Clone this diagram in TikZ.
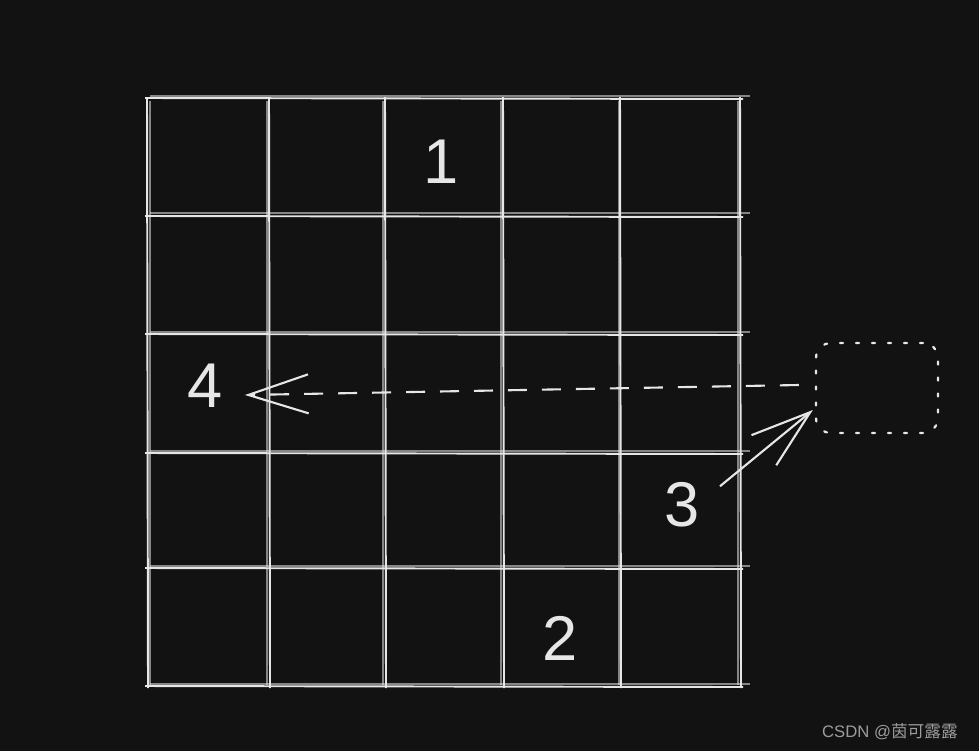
\documentclass[tikz,border=0pt]{standalone}
\usepackage{fontspec}
\setmainfont{Liberation Sans}
\newfontfamily\cjk{Noto Sans CJK SC}
\usetikzlibrary{positioning,arrows.meta,calc}
\definecolor{board}{HTML}{121212}
\definecolor{chalk}{HTML}{E6E6E6}
\definecolor{stampgray}{HTML}{9C9C9C}
\tikzset{
	gridline/.style={chalk, line width=1.1pt},
	gridfaint/.style={chalk, line width=0.7pt, opacity=0.55},
	digit/.style={text=chalk, inner sep=0pt, font=\fontsize{36}{36}\selectfont},
	barb/.style={-{Straight Barb[length=1.2cm, width=0.78cm, line width=1.2pt]}},
}

\begin{document}
\begin{tikzpicture}[x=0.02cm,y=-0.02cm]
		% Background
		\fill[board] (0,0) rectangle (979,751);
		\useasboundingbox (0,0) rectangle (979,751);

		% Grid
		\foreach \x in {147,269,385,503,620,740}
			\draw[gridline] (\x,97) -- (\x+1,688);
		\foreach \x in {150,267,383,501,619,738}
			\draw[gridfaint] (\x,101) -- (\x,685);
		\foreach \y in {98,216,334,453,568,686}
			\draw[gridline] (145,\y) -- (743,\y+1);
		\foreach \y in {96,213,332,451,566,684}
			\draw[gridfaint] (150,\y) -- (750,\y);

		% Numbers
		\node[digit] (one) at (441,162) {1};
		\node[digit] (two) at (560,638) {2};
		\node[digit] (three) at (682,505) {3};
		\node[digit] (four) at (205,386) {4};

		% Target box
		\node[draw=chalk,
			line width=1.3pt,
			line cap=round,
			dash pattern=on 0.06cm off 0.26cm,
			rounded corners=0.3cm,
			minimum width=2.44cm,
			minimum height=1.8cm
		] (target) at (877,388) {};

		% Arrows
		\draw[barb, chalk, line width=1.2pt, dash pattern=on 0.38cm off 0.3cm]
		($(target.west)+(-16,-3)$) -- ($(four.east)+(22,9)$);

		\draw[barb, chalk, line width=1.2pt]
		($(three.north east)+(20,4)$) -- ($(target.west)+(-2,22)$);

		% Watermark
		\node[anchor=east,
			text=stampgray,
			font=\fontsize{9.5}{10}\selectfont
		] (stamp) at (964,732) {CSDN @{\cjk 茵可露露}};
	\end{tikzpicture}
\end{document}
